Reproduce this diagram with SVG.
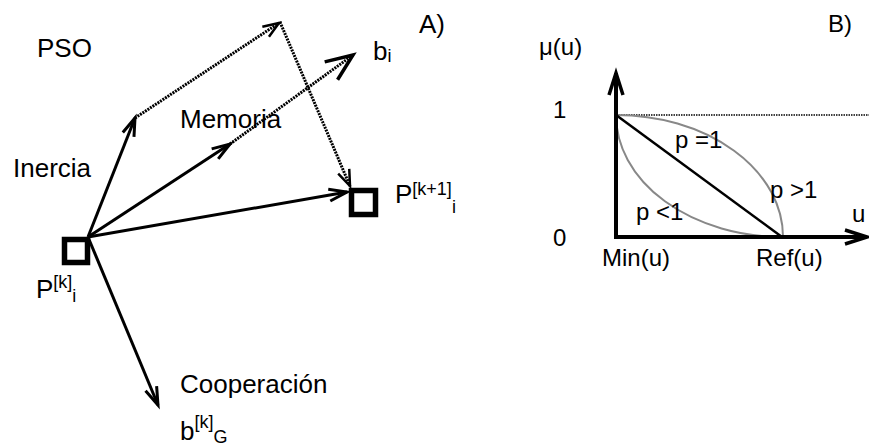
<svg xmlns="http://www.w3.org/2000/svg" width="869" height="448" viewBox="0 0 869 448">
<style>
text{font-family:"Liberation Sans",Arial,sans-serif;fill:#000}
.t{font-size:26px}
.r{font-size:24px}
.s{font-size:18px}
.sol{fill:none;stroke:#000;stroke-width:3}
.dot{fill:none;stroke:#000;stroke-width:3;stroke-dasharray:2 1}
.node{fill:none;stroke:#000;stroke-width:5.5}
.curve{fill:none;stroke:#888;stroke-width:2}
</style>
<defs>
<marker id="ah" markerUnits="userSpaceOnUse" markerWidth="30" markerHeight="30" refX="0" refY="0" orient="auto" overflow="visible">
<path d="M-18,-6 L0,0 L-18,6" fill="none" stroke="#000" stroke-width="3"/>
</marker>
<marker id="ahs" markerUnits="userSpaceOnUse" markerWidth="30" markerHeight="30" refX="0" refY="0" orient="auto" overflow="visible">
<path d="M-16,-6 L0,0 L-16,6" fill="none" stroke="#000" stroke-width="2.5"/>
</marker>
<marker id="ahb" markerUnits="userSpaceOnUse" markerWidth="40" markerHeight="40" refX="0" refY="0" orient="auto" overflow="visible">
<path d="M-27,-11 L0,0 L-27,11" fill="none" stroke="#000" stroke-width="3.5"/>
</marker>
<marker id="ax" markerUnits="userSpaceOnUse" markerWidth="30" markerHeight="30" refX="0" refY="0" orient="auto" overflow="visible">
<path d="M-22,-7 L0,0 L-22,7" fill="none" stroke="#000" stroke-width="3.5"/>
</marker>
</defs>

<g id="connectors">
<line class="sol" x1="88" y1="237" x2="135" y2="118" marker-end="url(#ah)"/>
<line class="dot" x1="135" y1="118" x2="279" y2="23" marker-end="url(#ahs)"/>
<line class="dot" x1="280" y1="22" x2="350" y2="186" marker-end="url(#ahs)"/>
<line class="sol" x1="88" y1="237" x2="230" y2="144" marker-end="url(#ah)"/>
<line class="dot" x1="230" y1="144" x2="353" y2="55" marker-end="url(#ahb)"/>
<line class="sol" x1="88" y1="237" x2="347" y2="192" stroke-width="4" marker-end="url(#ah)"/>
<line class="sol" x1="88" y1="237" x2="158" y2="405" marker-end="url(#ah)"/>
</g>

<g id="node-pk">
<rect class="node" x="64.5" y="239.5" width="23" height="23"/>
<text class="t" x="36" y="298">P<tspan class="s" dy="-10">[k]</tspan><tspan class="s" dy="14">i</tspan></text>
</g>
<g id="node-pk1">
<rect class="node" x="351.5" y="190.5" width="24" height="24"/>
<text class="t" x="395" y="203">P<tspan class="s" dy="-8">[k+1]</tspan><tspan class="s" dy="18">i</tspan></text>
</g>
<g id="labels-a">
<text class="t" x="37" y="57">PSO</text>
<text class="t" x="419" y="33">A)</text>
<text class="t" x="373" y="60">b<tspan class="s" dy="2">i</tspan></text>
<text class="t" x="13" y="177">Inercia</text>
<text class="t" x="180" y="128">Memoria</text>
<text class="t" x="180" y="393">Cooperación</text>
<text class="t" x="180" y="440">b<tspan class="s" dy="-12">[k]</tspan><tspan class="s" dy="15">G</tspan></text>
</g>

<g id="chart-b">
<line x1="616" y1="115" x2="869" y2="115" stroke="#000" stroke-width="1.5" stroke-dasharray="1.5 1"/>
<path class="curve" d="M616,115 A167,122 0 0 1 783,237"/>
<path class="curve" d="M616,115 A167,122 0 0 0 783,237"/>
<line x1="616" y1="115" x2="782" y2="237" stroke="#000" stroke-width="2.5"/>
<line x1="616" y1="239" x2="616" y2="73" stroke="#000" stroke-width="4" marker-end="url(#ax)"/>
<line x1="614" y1="237" x2="867" y2="237" stroke="#000" stroke-width="4" marker-end="url(#ax)"/>
<text class="r" x="828" y="32">B)</text>
<text class="r" x="539" y="55">μ(u)</text>
<text class="r" x="553" y="118">1</text>
<text class="r" x="553" y="246">0</text>
<text class="r" x="852" y="222">u</text>
<text class="r" x="602" y="266">Min(u)</text>
<text class="r" x="756" y="266">Ref(u)</text>
<text class="r" x="675" y="148">p =1</text>
<text class="r" x="770" y="198">p &gt;1</text>
<text class="r" x="636" y="220">p &lt;1</text>
</g>
</svg>
